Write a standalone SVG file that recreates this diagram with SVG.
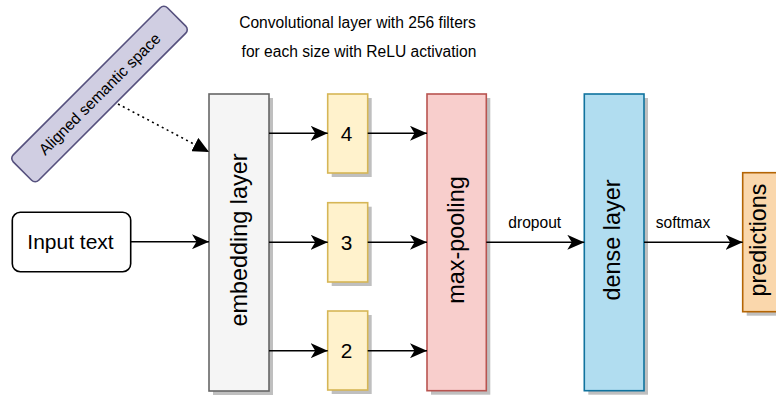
<svg xmlns="http://www.w3.org/2000/svg" width="776" height="399" viewBox="0 0 776 399">
  <defs>
    <marker id="arrow" markerUnits="userSpaceOnUse" markerWidth="17" markerHeight="15" viewBox="0 0 17 15" refX="17" refY="7.5" orient="auto">
      <path d="M0,0 L17,7.5 L0,15 L4.5,7.5 Z" fill="#000"/>
    </marker>
    <marker id="block" markerUnits="userSpaceOnUse" markerWidth="16" markerHeight="15" viewBox="0 0 16 15" refX="16" refY="7.5" orient="auto">
      <path d="M0,0 L16,7.5 L0,15 Z" fill="#000"/>
    </marker>
  </defs>
  <style>
    text { font-family: "Liberation Sans", Arial, sans-serif; fill: #000; }
    .shadow { fill: #bfbfbf; stroke: none; }
    .box { stroke-width: 1.6; }
    .emb { fill: #f5f5f5; stroke: #666666; }
    .conv { fill: #fff2cc; stroke: #d6b656; }
    .pool { fill: #f8cecc; stroke: #b85450; }
    .dense { fill: #b1ddf0; stroke: #10739e; }
    .pred { fill: #fad7ac; stroke: #b46504; }
    .space { fill: #d0cee2; stroke: #56517e; }
    .input { fill: #ffffff; stroke: #000000; }
    .big { font-size: 23.4px; }
    .num { font-size: 20.8px; }
    .small { font-size: 15.6px; }
    .edge { fill: none; stroke: #000; stroke-width: 1.6; }
    .dotted { stroke-dasharray: 2 3.5; }
  </style>

  <!-- caption above the convolution filters -->
  <g id="caption">
    <text class="small" x="357.5" y="28" text-anchor="middle">Convolutional layer with 256 filters</text>
    <text class="small" x="359" y="56.7" text-anchor="middle">for each size with ReLU activation</text>
  </g>

  <g id="aligned-space" transform="translate(99.5,94) rotate(-45)">
    <rect class="box space" x="-109" y="-18" width="218" height="36" rx="5"/>
    <text class="small" x="0" y="5.5" text-anchor="middle">Aligned semantic space</text>
  </g>

  <g id="input-text">
    <rect class="box input" x="12.3" y="212.3" width="118.4" height="59.4" rx="8"/>
    <text style="font-size:21px" x="70.5" y="249.3" text-anchor="middle">Input text</text>
  </g>

  <g id="embedding-layer">
    <rect class="shadow" x="213" y="98" width="60" height="297"/>
    <rect class="box emb" x="209" y="94" width="60" height="297"/>
    <text class="big" transform="translate(247,240) rotate(-90)" text-anchor="middle">embedding layer</text>
  </g>

  <g id="conv-4">
    <rect class="shadow" x="331.7" y="98" width="40" height="79"/>
    <rect class="box conv" x="327.7" y="94" width="40" height="79"/>
    <text class="num" x="346.5" y="141" text-anchor="middle">4</text>
  </g>

  <g id="conv-3">
    <rect class="shadow" x="331.7" y="206.7" width="40" height="79.3"/>
    <rect class="box conv" x="327.7" y="202.7" width="40" height="79.3"/>
    <text class="num" x="346.5" y="250" text-anchor="middle">3</text>
  </g>

  <g id="conv-2">
    <rect class="shadow" x="331.7" y="315" width="40" height="79"/>
    <rect class="box conv" x="327.7" y="311" width="40" height="79"/>
    <text class="num" x="346.5" y="358.3" text-anchor="middle">2</text>
  </g>

  <g id="max-pooling">
    <rect class="shadow" x="431" y="98" width="59.3" height="296.7"/>
    <rect class="box pool" x="427" y="94" width="59.3" height="296.7"/>
    <text class="big" transform="translate(463.5,240) rotate(-90)" text-anchor="middle">max-pooling</text>
  </g>

  <g id="dense-layer">
    <rect class="shadow" x="588.3" y="98" width="59.7" height="296.7"/>
    <rect class="box dense" x="584.3" y="94" width="59.7" height="296.7"/>
    <text class="big" transform="translate(619.5,240) rotate(-90)" text-anchor="middle">dense layer</text>
  </g>

  <g id="predictions">
    <rect class="shadow" x="746.7" y="176.7" width="36" height="139"/>
    <rect class="box pred" x="742.7" y="172.7" width="36" height="139"/>
    <text class="big" transform="translate(766,240) rotate(-90)" text-anchor="middle">predictions</text>
  </g>

  <g id="connectors">
    <line class="edge dotted" x1="118" y1="104" x2="209" y2="152" marker-end="url(#block)"/>
    <line class="edge" x1="130.7" y1="241.7" x2="209" y2="241.7" marker-end="url(#arrow)"/>
    <line class="edge" x1="269" y1="133.3" x2="327.7" y2="133.3" marker-end="url(#arrow)"/>
    <line class="edge" x1="269" y1="242.3" x2="327.7" y2="242.3" marker-end="url(#arrow)"/>
    <line class="edge" x1="269" y1="350.7" x2="327.7" y2="350.7" marker-end="url(#arrow)"/>
    <line class="edge" x1="367.7" y1="133.3" x2="427" y2="133.3" marker-end="url(#arrow)"/>
    <line class="edge" x1="367.7" y1="242.3" x2="427" y2="242.3" marker-end="url(#arrow)"/>
    <line class="edge" x1="367.7" y1="350.7" x2="427" y2="350.7" marker-end="url(#arrow)"/>
    <line class="edge" x1="486.3" y1="242.3" x2="584.3" y2="242.3" marker-end="url(#arrow)"/>
    <line class="edge" x1="644" y1="242.3" x2="742.7" y2="242.3" marker-end="url(#arrow)"/>
    <text class="small" x="508.3" y="227.7">dropout</text>
    <text class="small" x="655.7" y="227.7">softmax</text>
  </g>
</svg>
